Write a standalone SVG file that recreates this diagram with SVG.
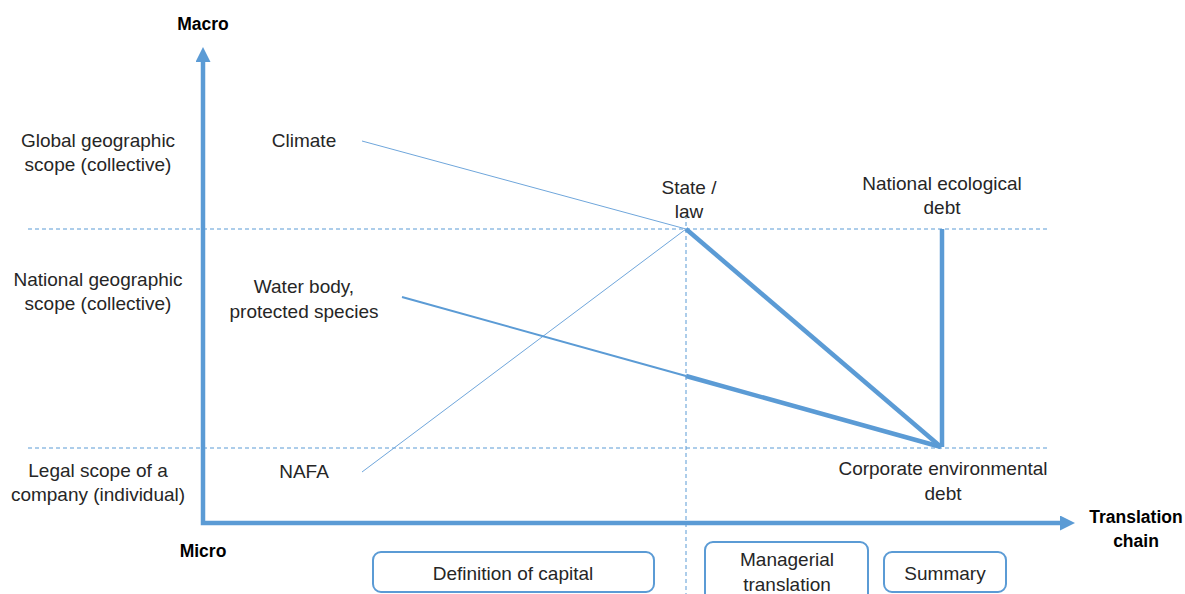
<svg xmlns="http://www.w3.org/2000/svg" width="1185" height="594" viewBox="0 0 1185 594">
  <style>
    text { font-family: "Liberation Sans", Arial, sans-serif; font-size: 19px; fill: #262626; text-anchor: middle; }
    .bold { font-weight: bold; font-size: 17.5px; fill: #000; }
    .axis { fill: none; stroke: #5b9bd5; stroke-width: 4.5; }
    .dash { fill: none; stroke: #5b9bd5; stroke-width: 1; stroke-dasharray: 4 3; }
    .thin { stroke: #6fa6db; stroke-width: 1; fill: none; }
    .med { stroke: #5b9bd5; stroke-width: 2; fill: none; }
    .thick { stroke: #5b9bd5; stroke-width: 4.5; fill: none; }
    .box { fill: #fff; stroke: #5b9bd5; stroke-width: 2; }
  </style>
  <defs>
    <marker id="arrow" markerUnits="userSpaceOnUse" markerWidth="16" markerHeight="16" refX="0" refY="7.5" orient="auto-start-reverse">
      <path d="M0,0 L15,7.5 L0,15 z" fill="#5b9bd5"/>
    </marker>
  </defs>
  <rect width="1185" height="594" fill="#fff"/>

  <g id="connectors">
    <path class="dash" d="M28,229 H1048"/>
    <path class="dash" d="M28,448 H1048"/>
    <path class="dash" d="M686,215 V594"/>
    <path class="axis" d="M203,62 V523 H1060" marker-start="url(#arrow)" marker-end="url(#arrow)"/>
    <path class="thin" d="M362,141 L686,229"/>
    <path class="thin" d="M362,472 L686,229"/>
    <path class="med" d="M402,297 L686,376"/>
    <path class="thick" d="M686,376 L941,447"/>
    <path class="thick" d="M686,229 L941,447"/>
    <path class="thick" d="M942,229 V447"/>
  </g>

  <g id="axis-macro"><text class="bold" x="203" y="30">Macro</text></g>
  <g id="axis-micro"><text class="bold" x="203" y="557">Micro</text></g>
  <g id="axis-translation"><text class="bold" x="1136" y="523">Translation</text><text class="bold" x="1136" y="547">chain</text></g>

  <g id="level-global"><text x="98" y="147">Global geographic</text><text x="98" y="171">scope (collective)</text></g>
  <g id="level-national"><text x="98" y="286">National geographic</text><text x="98" y="310">scope (collective)</text></g>
  <g id="level-legal"><text x="98" y="477">Legal scope of a</text><text x="98" y="501">company (individual)</text></g>

  <g id="node-climate"><text x="304" y="147">Climate</text></g>
  <g id="node-water"><text x="304" y="293">Water body,</text><text x="304" y="318">protected species</text></g>
  <g id="node-nafa"><text x="304" y="478">NAFA</text></g>
  <g id="node-state"><text x="689" y="194">State /</text><text x="689" y="218">law</text></g>
  <g id="node-national-debt"><text x="942" y="190">National ecological</text><text x="942" y="214">debt</text></g>
  <g id="node-corporate-debt"><text x="943" y="475">Corporate environmental</text><text x="943" y="500">debt</text></g>

  <g id="phase-definition"><rect class="box" x="373" y="552" width="281" height="40" rx="8"/><text x="513" y="580">Definition of capital</text></g>
  <g id="phase-managerial"><rect class="box" x="705" y="542" width="163" height="62" rx="8"/><text x="787" y="566">Managerial</text><text x="787" y="591">translation</text></g>
  <g id="phase-summary"><rect class="box" x="884" y="552" width="122" height="40" rx="8"/><text x="945" y="580">Summary</text></g>
</svg>
